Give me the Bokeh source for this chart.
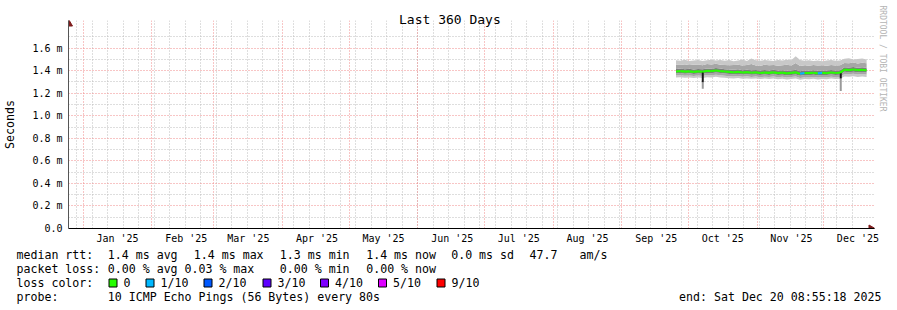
import numpy as np
import pandas as pd
from math import pi
from bokeh.plotting import figure
from bokeh.layouts import column
from bokeh.models import Range1d, FixedTicker, Title
from bokeh.core.properties import value
from bokeh.embed import file_html
from bokeh.resources import INLINE

# ---------------- data ----------------
title_text = "Last 360 Days"
y_unit_label = "Seconds"
watermark = "RRDTOOL / TOBI OETIKER"
range_start = pd.Timestamp("2024-12-25 08:55:18")
range_end = pd.Timestamp("2025-12-20 08:55:18")

sample_dates = pd.date_range("2025-09-25 10:00", periods=44, freq="2D")

median_rtt = [1.392, 1.396, 1.391, 1.394, 1.389, 1.393, 1.390, 1.397, 1.395, 1.401,
              1.396, 1.392, 1.388, 1.385, 1.389, 1.383, 1.386, 1.381, 1.384, 1.379,
              1.383, 1.380, 1.385, 1.378, 1.382, 1.376, 1.380, 1.384, 1.372, 1.379,
              1.377, 1.381, 1.376, 1.380, 1.378, 1.383, 1.379, 1.381, 1.408, 1.405,
              1.410, 1.404, 1.407, 1.403]
loss_count = [0, 0, 0, 0, 0, 0, 0, 0, 0, 0,
              0, 0, 0, 0, 0, 0, 0, 0, 0, 0,
              0, 0, 0, 0, 0, 0, 0, 0, 1, 0,
              0, 0, 1, 0, 0, 0, 0, 0, 0, 0,
              0, 0, 0, 0]
ping_max = [1.492, 1.488, 1.497, 1.485, 1.490, 1.494, 1.486, 1.491, 1.496, 1.489,
            1.493, 1.487, 1.495, 1.484, 1.490, 1.498, 1.486, 1.508, 1.492, 1.487,
            1.494, 1.489, 1.485, 1.493, 1.490, 1.497, 1.491, 1.528, 1.495, 1.488,
            1.492, 1.486, 1.490, 1.484, 1.489, 1.493, 1.487, 1.490, 1.505, 1.510,
            1.498, 1.502, 1.507, 1.499]
ping_p9 = [1.452, 1.455, 1.449, 1.457, 1.451, 1.454, 1.448, 1.458, 1.455, 1.460,
           1.452, 1.450, 1.447, 1.449, 1.453, 1.445, 1.450, 1.458, 1.446, 1.444,
           1.451, 1.447, 1.449, 1.443, 1.448, 1.452, 1.446, 1.468, 1.440, 1.447,
           1.444, 1.450, 1.445, 1.448, 1.442, 1.449, 1.446, 1.448, 1.468, 1.465,
           1.471, 1.463, 1.469, 1.466]
ping_p7 = [1.414, 1.418, 1.412, 1.416, 1.410, 1.415, 1.411, 1.419, 1.417, 1.423,
           1.418, 1.413, 1.409, 1.407, 1.411, 1.404, 1.408, 1.403, 1.406, 1.401,
           1.405, 1.402, 1.407, 1.400, 1.404, 1.398, 1.402, 1.407, 1.395, 1.401,
           1.399, 1.403, 1.398, 1.402, 1.400, 1.405, 1.401, 1.403, 1.430, 1.427,
           1.432, 1.426, 1.429, 1.425]
ping_p4 = [1.374, 1.378, 1.373, 1.376, 1.371, 1.375, 1.372, 1.379, 1.377, 1.383,
           1.378, 1.374, 1.370, 1.367, 1.371, 1.365, 1.368, 1.363, 1.366, 1.361,
           1.365, 1.362, 1.367, 1.360, 1.364, 1.358, 1.362, 1.366, 1.354, 1.361,
           1.359, 1.363, 1.358, 1.362, 1.360, 1.365, 1.361, 1.363, 1.389, 1.386,
           1.391, 1.385, 1.388, 1.384]
ping_p2 = [1.356, 1.359, 1.354, 1.357, 1.352, 1.356, 1.353, 1.360, 1.358, 1.363,
           1.358, 1.355, 1.351, 1.348, 1.352, 1.346, 1.349, 1.344, 1.347, 1.342,
           1.346, 1.343, 1.348, 1.341, 1.345, 1.339, 1.343, 1.347, 1.335, 1.342,
           1.340, 1.344, 1.339, 1.343, 1.341, 1.346, 1.342, 1.344, 1.370, 1.367,
           1.372, 1.366, 1.369, 1.365]
ping_min = [1.338, 1.341, 1.336, 1.340, 1.335, 1.338, 1.334, 1.342, 1.340, 1.345,
            1.340, 1.337, 1.333, 1.330, 1.334, 1.328, 1.331, 1.327, 1.330, 1.325,
            1.329, 1.326, 1.331, 1.324, 1.328, 1.322, 1.326, 1.330, 1.318, 1.325,
            1.323, 1.327, 1.322, 1.326, 1.324, 1.329, 1.325, 1.327, 1.348, 1.345,
            1.351, 1.344, 1.347, 1.343]

# short downward spikes
dip_dates = pd.to_datetime(["2025-10-07 12:00", "2025-12-08 18:00"])
dip_top = [1.390, 1.380]
dip_dark_low = [1.296, 1.330]
dip_tail_low = [1.240, 1.220]

# axis ticks
month_starts = pd.date_range("2025-01-01", "2025-12-01", freq="MS")
x_tick_labels = ["Jan '25", "Feb '25", "Mar '25", "Apr '25", "May '25", "Jun '25",
                 "Jul '25", "Aug '25", "Sep '25", "Oct '25", "Nov '25", "Dec '25"]
week_lines = pd.date_range("2024-12-29", "2025-12-20", freq="7D")
y_ticks = [0.0, 0.2, 0.4, 0.6, 0.8, 1.0, 1.2, 1.4, 1.6]
y_tick_labels = ["0.0", "0.2 m", "0.4 m", "0.6 m", "0.8 m", "1.0 m", "1.2 m", "1.4 m", "1.6 m"]
y_minor = [0.1, 0.3, 0.5, 0.7, 0.9, 1.1, 1.3, 1.5, 1.7]

# legend stats
rtt_names = ["avg", "max", "min", "now"]
rtt_values = [1.4, 1.4, 1.3, 1.4]
rtt_sd = 0.0
am_per_s = 47.7
loss_names = ["avg", "max", "min", "now"]
loss_values = [0.00, 0.03, 0.00, 0.00]
loss_levels = [0, 1, 2, 3, 4, 5, 9]
loss_level_labels = ["0", "1/10", "2/10", "3/10", "4/10", "5/10", "9/10"]
loss_level_colors = ["#26ff00", "#00b8ff", "#0059ff", "#5e00ff", "#7e00ff", "#dd00ff", "#ff0000"]
probe_text = "10 ICMP Echo Pings (56 Bytes) every 80s"
end_text = "end: Sat Dec 20 08:55:18 2025"


def ms(idx):
    return [float(v) for v in (pd.DatetimeIndex(idx).asi8 // 10**6)]


MONO = "DejaVu Sans Mono"

# ---------------- geometry (canvas px) ----------------
W, H = 897, 310
FL, FR, FT, FB = 66, 874, 20, 228        # frame edges (a little room for the axis arrows)
DATA_R, DATA_T = 866, 25                # where the 360-day span / 1.8 m end
H1 = 246                                # chart part height (legend below)

t0 = ms([range_start])[0]
t1 = ms([range_end])[0]
px_per_ms_t = (DATA_R - FL) / (t1 - t0)
x_end = t0 + (FR - FL) / px_per_ms_t
y_top = 1.8 * (FB - FT) / (FB - DATA_T)


def xdat(X):
    return t0 + (X - FL) / px_per_ms_t


def ydat(Y):
    return (FB - Y) / (FB - DATA_T) * 1.8


p = figure(width=W, height=H1, x_axis_type="datetime",
           x_range=Range1d(t0, x_end), y_range=Range1d(0, y_top), title=None,
           output_backend="svg", toolbar_location=None,
           min_border_left=FL, min_border_right=W - FR, min_border_top=FT,
           min_border_bottom=H1 - FB)
p.frame_align = False
p.outline_line_color = None
p.background_fill_color = "white"
p.border_fill_color = "white"

label_pos = month_starts + pd.Timedelta(days=15, hours=12)
xa = p.xaxis[0]
xa.ticker = FixedTicker(ticks=ms(label_pos))
xa.major_label_overrides = dict(zip(ms(label_pos), x_tick_labels))
xa.major_tick_out = 0
xa.major_tick_in = 0
xa.minor_tick_out = 0
xa.minor_tick_in = 0
xa.axis_line_color = "#000000"
xa.major_label_standoff = 4
xa.major_label_text_font = MONO
xa.major_label_text_font_size = "10px"
xa.major_label_text_color = "#000000"

ya = p.yaxis[0]
ya.ticker = FixedTicker(ticks=y_ticks, minor_ticks=y_minor)
ya.major_label_overrides = dict(zip(y_ticks, y_tick_labels))
ya.major_tick_out = 0
ya.major_tick_in = 0
ya.minor_tick_out = 0
ya.minor_tick_in = 0
ya.axis_line_color = "#555555"
ya.major_label_standoff = 6
ya.major_label_text_font = MONO
ya.major_label_text_font_size = "10px"
ya.major_label_text_color = "#000000"
ya.axis_label = y_unit_label
ya.axis_label_text_font = MONO
ya.axis_label_text_font_size = "11.6px"
ya.axis_label_text_font_style = "normal"
ya.axis_label_text_color = "#000000"
ya.axis_label_standoff = 12

p.xgrid.ticker = FixedTicker(ticks=ms(month_starts), minor_ticks=ms(week_lines))
for g in (p.xgrid[0], p.ygrid[0]):
    g.grid_line_color = "#f08a8a"
    g.grid_line_dash = "1 2"
    g.minor_grid_line_color = "#bdbdbd"
    g.minor_grid_line_dash = "1 2"

p.title = Title(text=title_text, align="left", offset=396.5 - FL,
                text_font=MONO, text_font_size="13px", text_font_style="normal",
                text_color="#000000", standoff=-13)
p.add_layout(Title(text=watermark, align="left", offset=-15, text_font=MONO, text_font_size="8px",
                   text_font_style="normal", text_color="#b4b4b4", standoff=7), "right")

# smoke
xd = sample_dates
p.varea(x=xd, y1=ping_min, y2=ping_p2, fill_color="#c8c8c8")
p.varea(x=xd, y1=ping_p2, y2=ping_p4, fill_color="#a6a6a6")
p.varea(x=xd, y1=ping_p4, y2=ping_p7, fill_color="#7c7c7c")
p.varea(x=xd, y1=ping_p7, y2=ping_p9, fill_color="#a6a6a6")
p.varea(x=xd, y1=ping_p9, y2=ping_max, fill_color="#c8c8c8")

p.segment(x0=dip_dates, x1=dip_dates, y0=dip_dark_low, y1=dip_tail_low,
          line_color="#9a9a9a", line_width=2)
p.segment(x0=dip_dates, x1=dip_dates, y0=dip_top, y1=dip_dark_low,
          line_color="#1a1a1a", line_width=2)

cmap = dict(zip(loss_levels, loss_level_colors))
seg_colors = [cmap[l] for l in loss_count[:-1]]
p.segment(x0=xd[:-1], x1=xd[1:], y0=median_rtt[:-1], y1=median_rtt[1:],
          line_color=seg_colors, line_width=2.2)

# axis arrow heads
p.scatter(x=[xdat(870.5)], y=[0], marker="triangle", size=7, angle=-pi / 2,
          fill_color="#7f1d1d", line_color="#7f1d1d")
p.scatter(x=[xdat(66.5)], y=[ydat(23.5)], marker="triangle", size=7,
          fill_color="#7f1d1d", line_color="#7f1d1d")

# ---------------- legend part (its own figure, pixel coordinates) ----------------
q = figure(width=W, height=H - H1, x_range=Range1d(0, W), y_range=Range1d(H, H1),
           x_axis_type=None, y_axis_type=None, title=None,
           output_backend="svg", toolbar_location=None,
           min_border_left=0, min_border_right=0, min_border_top=0, min_border_bottom=0)
q.frame_align = False
q.outline_line_color = None
q.background_fill_color = "white"
q.border_fill_color = "white"
q.xgrid.visible = False
q.ygrid.visible = False

rows = [254.3, 268.7, 282.3, 296.3]
tx, ty, tt, ta = [], [], [], []


def put(X, Y, s, align="left"):
    tx.append(X); ty.append(Y); tt.append(s); ta.append(align)


put(16, rows[0], "median rtt:")
for X, v, n in zip([107.3, 193.3, 279.3, 365.7], rtt_values, rtt_names):
    put(X, rows[0], f"{v:.1f} ms {n}")
put(450.7, rows[0], f"{rtt_sd:.1f} ms sd")
put(529, rows[0], f"{am_per_s:.1f}")
put(579, rows[0], "am/s")

put(16, rows[1], "packet loss:")
for X, v, n in zip([107.3, 184.0, 279.3, 365.7], loss_values, loss_names):
    put(X, rows[1], f"{v:.2f} % {n}")

put(16, rows[2], "loss color:")
box_left = [108, 145, 203, 262, 319.5, 377.5, 436]
for L, t in zip(box_left, loss_level_labels):
    put(L + 15, rows[2], t)

put(16, rows[3], "probe:")
put(107.3, rows[3], probe_text)
put(881, rows[3], end_text, align="right")

q.text(x=tx, y=ty, text=tt, text_align=ta, text_baseline="middle",
       text_font=value(MONO), text_font_size=value("11.6px"), text_color="#000000")
q.quad(left=[b + 0.5 for b in box_left], right=[b + 8.5 for b in box_left],
       top=[278.5] * len(box_left), bottom=[286.5] * len(box_left),
       fill_color=loss_level_colors, line_color="#000000", line_width=1)

open("out.html", "w").write(file_html(column(p, q, spacing=0), INLINE))
